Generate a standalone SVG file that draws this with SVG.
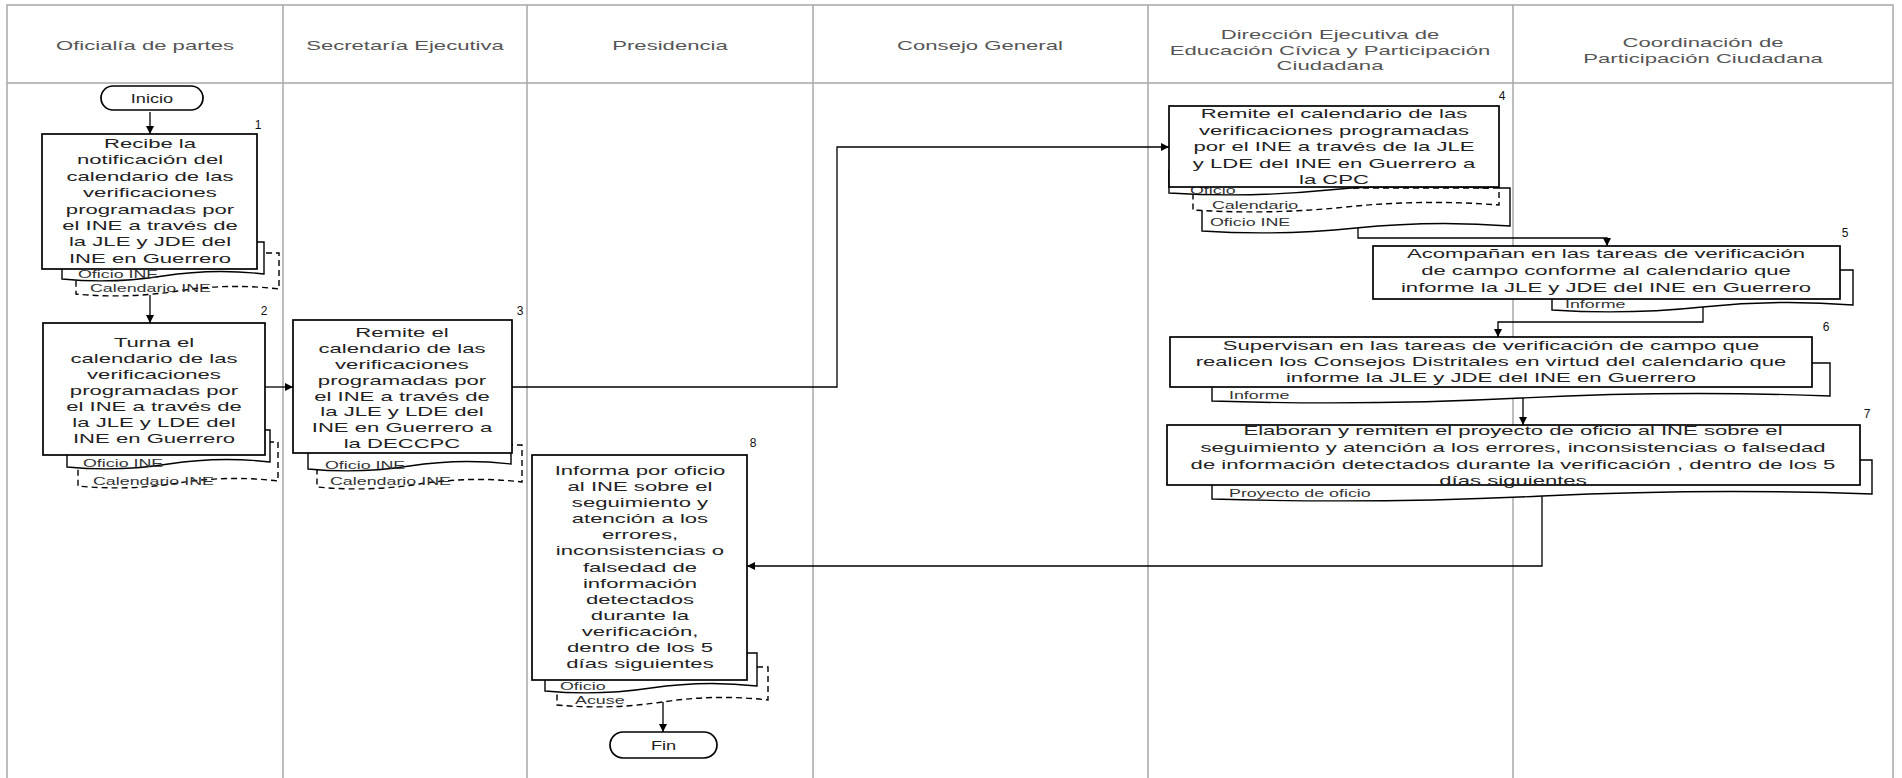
<svg xmlns="http://www.w3.org/2000/svg" width="1902" height="778" viewBox="0 0 1902 778">
<defs>
<marker id="ah" viewBox="0 0 10 10" refX="10" refY="5" markerWidth="8" markerHeight="8" markerUnits="userSpaceOnUse" orient="auto"><path d="M0,0 L10,5 L0,10 z" fill="#000"/></marker>
<style>
.lane{stroke:#a8a8a8;stroke-width:1.5;fill:none}
.box{fill:#fff;stroke:#000;stroke-width:1.7}
.doc{fill:#fff;stroke:#000;stroke-width:1.4}
.docd{fill:#fff;stroke:#000;stroke-width:1.4;stroke-dasharray:6 4}
.conn{fill:none;stroke:#000;stroke-width:1.3;marker-end:url(#ah)}
.t{font-family:"Liberation Sans",Arial,sans-serif;font-size:13px;fill:#222;text-anchor:middle}
.h{font-family:"Liberation Sans",Arial,sans-serif;font-size:13px;fill:#555;text-anchor:middle}
.d{font-family:"Liberation Sans",Arial,sans-serif;font-size:10.5px;fill:#333}
.n{font-family:"Liberation Sans",Arial,sans-serif;font-size:12px;fill:#111;text-anchor:middle}
</style>
</defs>
<rect width="1902" height="778" fill="#fff"/>
<g id="lanes">
<path class="lane" d="M7,790 V5 H1893 V790 M7,83 H1893 M283,5 V778 M527,5 V778 M813,5 V778 M1148,5 V778 M1513,5 V778"/>
<g transform="translate(145,0) scale(1.7,1)"><text class="h"><tspan x="0" y="50">Oficialía de partes</tspan></text></g>
<g transform="translate(405,0) scale(1.7,1)"><text class="h"><tspan x="0" y="50">Secretaría Ejecutiva</tspan></text></g>
<g transform="translate(670,0) scale(1.7,1)"><text class="h"><tspan x="0" y="50">Presidencia</tspan></text></g>
<g transform="translate(980,0) scale(1.7,1)"><text class="h"><tspan x="0" y="50">Consejo General</tspan></text></g>
<g transform="translate(1330,0) scale(1.7,1)"><text class="h"><tspan x="0" y="39">Dirección Ejecutiva de</tspan><tspan x="0" y="55">Educación Cívica y Participación</tspan><tspan x="0" y="70">Ciudadana</tspan></text></g>
<g transform="translate(1703,0) scale(1.7,1)"><text class="h"><tspan x="0" y="47">Coordinación de</tspan><tspan x="0" y="63">Participación Ciudadana</tspan></text></g>
</g>
<g id="connectors">
<path class="conn" d="M150,112 V134"/>
<path class="conn" d="M150,295 V323"/>
<path class="conn" d="M265,387 H293"/>
<path class="conn" d="M512,387 H837 V147 H1169"/>
<path class="conn" d="M1358,228 V238 H1607 V246"/>
<path class="conn" d="M1703,307 V322 H1498 V337"/>
<path class="conn" d="M1523,398 V425"/>
<path class="conn" d="M1542,496 V566 H747"/>
<path class="conn" d="M663,702 V732"/>
</g>
<g id="inicio">
<rect x="101" y="86" width="102" height="24" rx="12" class="box"/>
<g transform="translate(152,0) scale(1.4,1)"><text class="t"><tspan x="0" y="103">Inicio</tspan></text></g>
</g>
<g id="n1">
<path class="docd" d="M76 253 H279 V289 Q228 283 177.5 291 T76 294 Z"/>
<g transform="translate(90,0) scale(1.7,1)"><text class="d"><tspan x="0" y="292">Calendario INE</tspan></text></g>
<path class="doc" d="M62 242 H264 V274 Q213.5 268 163 276 T62 279 Z"/>
<g transform="translate(78,0) scale(1.7,1)"><text class="d"><tspan x="0" y="278">Oficio INE</tspan></text></g>
<rect x="42" y="134" width="215" height="135" class="box"/>
<g transform="translate(150,0) scale(1.7,1)"><text class="t"><tspan x="0" y="148">Recibe la</tspan><tspan x="0" y="164.4">notificación del</tspan><tspan x="0" y="180.8">calendario de las</tspan><tspan x="0" y="197.2">verificaciones</tspan><tspan x="0" y="213.6">programadas por</tspan><tspan x="0" y="230">el INE a través de</tspan><tspan x="0" y="246.4">la JLE y JDE del</tspan><tspan x="0" y="262.8">INE en Guerrero</tspan></text></g>
<text class="n" x="258" y="129">1</text>
</g>
<g id="n2">
<path class="docd" d="M78 442 H278 V481 Q228 475 178 483 T78 486 Z"/>
<g transform="translate(93,0) scale(1.7,1)"><text class="d"><tspan x="0" y="485">Calendario INE</tspan></text></g>
<path class="doc" d="M67 430 H270 V462 Q219.25 456 168.5 464 T67 467 Z"/>
<g transform="translate(83,0) scale(1.7,1)"><text class="d"><tspan x="0" y="467">Oficio INE</tspan></text></g>
<rect x="43" y="323" width="222" height="132" class="box"/>
<g transform="translate(154,0) scale(1.7,1)"><text class="t"><tspan x="0" y="347">Turna el</tspan><tspan x="0" y="363">calendario de las</tspan><tspan x="0" y="379">verificaciones</tspan><tspan x="0" y="395">programadas por</tspan><tspan x="0" y="411">el INE a través de</tspan><tspan x="0" y="427">la JLE y LDE del</tspan><tspan x="0" y="443">INE en Guerrero</tspan></text></g>
<text class="n" x="264" y="315">2</text>
</g>
<g id="n3">
<path class="docd" d="M317 445 H522 V482 Q470.75 476 419.5 484 T317 487 Z"/>
<g transform="translate(330,0) scale(1.7,1)"><text class="d"><tspan x="0" y="485">Calendario INE</tspan></text></g>
<path class="doc" d="M308 430 H511 V464 Q460.25 458 409.5 466 T308 469 Z"/>
<g transform="translate(325,0) scale(1.7,1)"><text class="d"><tspan x="0" y="469">Oficio INE</tspan></text></g>
<rect x="293" y="320" width="219" height="133" class="box"/>
<g transform="translate(402,0) scale(1.7,1)"><text class="t"><tspan x="0" y="337">Remite el</tspan><tspan x="0" y="352.9">calendario de las</tspan><tspan x="0" y="368.8">verificaciones</tspan><tspan x="0" y="384.7">programadas por</tspan><tspan x="0" y="400.6">el INE a través de</tspan><tspan x="0" y="416.5">la JLE y LDE del</tspan><tspan x="0" y="432.4">INE en Guerrero a</tspan><tspan x="0" y="448.3">la DECCPC</tspan></text></g>
<text class="n" x="520" y="315">3</text>
</g>
<g id="n4">
<path class="doc" d="M1202 188 H1510 V226 Q1433 220 1356 228 T1202 231 Z"/>
<g transform="translate(1210,0) scale(1.7,1)"><text class="d"><tspan x="0" y="226">Oficio INE</tspan></text></g>
<path class="docd" d="M1193 188 H1499 V205 Q1422.5 199 1346 207 T1193 210 Z"/>
<g transform="translate(1212,0) scale(1.7,1)"><text class="d"><tspan x="0" y="209">Calendario</tspan></text></g>
<path class="doc" d="M1169 170 H1488 V188 Q1408.25 182 1328.5 190 T1169 193 Z"/>
<g transform="translate(1190,0) scale(1.7,1)"><text class="d"><tspan x="0" y="194">Oficio</tspan></text></g>
<rect x="1169" y="106" width="330" height="81" class="box"/>
<g transform="translate(1334,0) scale(1.7,1)"><text class="t"><tspan x="0" y="118">Remite el calendario de las</tspan><tspan x="0" y="134.6">verificaciones programadas</tspan><tspan x="0" y="151.2">por el INE a través de la JLE</tspan><tspan x="0" y="167.8">y LDE del INE en Guerrero a</tspan><tspan x="0" y="184.4">la CPC</tspan></text></g>
<text class="n" x="1502" y="100">4</text>
</g>
<g id="n5">
<path class="doc" d="M1552 270 H1853 V305 Q1777.75 299 1702.5 307 T1552 310 Z"/>
<g transform="translate(1565,0) scale(1.7,1)"><text class="d"><tspan x="0" y="308">Informe</tspan></text></g>
<rect x="1373" y="246" width="467" height="53" class="box"/>
<g transform="translate(1606,0) scale(1.7,1)"><text class="t"><tspan x="0" y="258">Acompañan en las tareas de verificación</tspan><tspan x="0" y="275">de campo conforme al calendario que</tspan><tspan x="0" y="292">informe la JLE y JDE del INE en Guerrero</tspan></text></g>
<text class="n" x="1845" y="237">5</text>
</g>
<g id="n6">
<path class="doc" d="M1212 363 H1830 V396 Q1675.5 390 1521 398 T1212 401 Z"/>
<g transform="translate(1229,0) scale(1.7,1)"><text class="d"><tspan x="0" y="399">Informe</tspan></text></g>
<rect x="1170" y="337" width="642" height="50" class="box"/>
<g transform="translate(1491,0) scale(1.7,1)"><text class="t"><tspan x="0" y="350">Supervisan en las tareas de verificación de campo que</tspan><tspan x="0" y="366">realicen los Consejos Distritales en virtud del calendario que</tspan><tspan x="0" y="382">informe la JLE y JDE del INE en Guerrero</tspan></text></g>
<text class="n" x="1826" y="331">6</text>
</g>
<g id="n7">
<path class="doc" d="M1212 460 H1872 V494 Q1707 488 1542 496 T1212 499 Z"/>
<g transform="translate(1229,0) scale(1.7,1)"><text class="d"><tspan x="0" y="497">Proyecto de oficio</tspan></text></g>
<rect x="1167" y="425" width="693" height="60" class="box"/>
<g transform="translate(1513,0) scale(1.7,1)"><text class="t"><tspan x="0" y="435">Elaboran y remiten el proyecto de oficio al INE sobre el</tspan><tspan x="0" y="452">seguimiento y atención a los errores, inconsistencias o falsedad</tspan><tspan x="0" y="469">de información detectados durante la verificación , dentro de los 5</tspan><tspan x="0" y="485">días siguientes</tspan></text></g>
<text class="n" x="1867" y="418">7</text>
</g>
<g id="n8">
<path class="docd" d="M557 667 H768 V700 Q715.25 694 662.5 702 T557 705 Z"/>
<g transform="translate(575,0) scale(1.7,1)"><text class="d"><tspan x="0" y="704">Acuse</tspan></text></g>
<path class="doc" d="M545 653 H757 V686 Q704 680 651 688 T545 691 Z"/>
<g transform="translate(560,0) scale(1.7,1)"><text class="d"><tspan x="0" y="690">Oficio</tspan></text></g>
<rect x="532" y="455" width="215" height="225" class="box"/>
<g transform="translate(640,0) scale(1.7,1)"><text class="t"><tspan x="0" y="475">Informa por oficio</tspan><tspan x="0" y="491.1">al INE sobre el</tspan><tspan x="0" y="507.2">seguimiento y</tspan><tspan x="0" y="523.3">atención a los</tspan><tspan x="0" y="539.4">errores,</tspan><tspan x="0" y="555.5">inconsistencias o</tspan><tspan x="0" y="571.6">falsedad de</tspan><tspan x="0" y="587.7">información</tspan><tspan x="0" y="603.8">detectados</tspan><tspan x="0" y="619.9">durante la</tspan><tspan x="0" y="636">verificación,</tspan><tspan x="0" y="652.1">dentro de los 5</tspan><tspan x="0" y="668.2">días siguientes</tspan></text></g>
<text class="n" x="753" y="447">8</text>
</g>
<g id="fin">
<rect x="610" y="732" width="107" height="26" rx="13" class="box"/>
<g transform="translate(663.5,0) scale(1.4,1)"><text class="t"><tspan x="0" y="750">Fin</tspan></text></g>
</g>
</svg>
